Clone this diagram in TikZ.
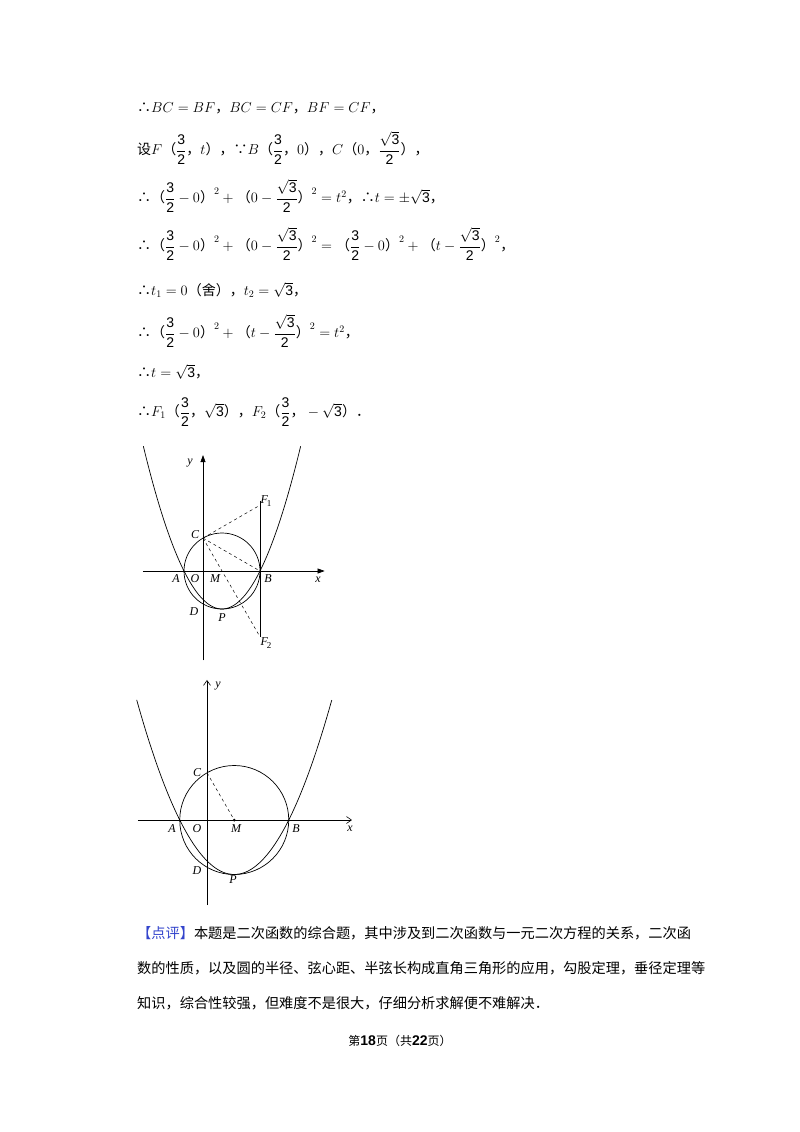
\documentclass[tikz,border=0pt]{standalone}
\usepackage{fontspec}
\usepackage{amsmath}
\setmainfont{Liberation Serif}
\newfontfamily\cjk{Noto Sans CJK SC}
\newfontfamily\arialf{Liberation Sans}
\usetikzlibrary{arrows.meta}
\newcommand{\fr}[2]{\dfrac{\text{\arialf #1}}{\text{\arialf #2}}}
\newcommand{\sq}{\sqrt{\text{\arialf 3}}}
\newcommand{\zh}[1]{\text{\cjk #1}}
\begin{document}
\begin{tikzpicture}[x=1pt,y=-1pt,
  txt/.style={anchor=west,inner sep=0pt,font=\fontsize{14}{16}\selectfont},
  lab/.style={inner sep=0pt,font=\fontsize{12}{14}\selectfont\itshape},
  dsh/.style={dashed,line width=0.5pt},
  crv/.style={line width=0.7pt}]
\useasboundingbox (0,0) rectangle (800,1132);
\fill[white] (0,0) rectangle (800,1132);
% text lines
\node[txt] (l1) at (137,108) {$\zh{∴}BC=BF\zh{，}BC=CF\zh{，}BF=CF\zh{，}$};
\node[txt] (l2) at (137,148) {$\zh{设}F\zh{（}\fr32\zh{，}t\zh{），∵}B\zh{（}\fr32\zh{，}0\zh{），}C\zh{（}0\zh{，}\fr{$\sq$}{2}\zh{），}$};
\node[txt] (l3) at (137,196) {$\zh{∴（}\fr32-0\zh{）}^2+\zh{（}0-\fr{$\sq$}{2}\zh{）}^2=t^2\zh{，∴}t=\pm\sq\zh{，}$};
\node[txt] (l4) at (137,244) {$\zh{∴（}\fr32-0\zh{）}^2+\zh{（}0-\fr{$\sq$}{2}\zh{）}^2=\zh{（}\fr32-0\zh{）}^2+\zh{（}t-\fr{$\sq$}{2}\zh{）}^2\zh{，}$};
\node[txt] (l5) at (137,290) {$\zh{∴}t_1=0\zh{（舍），}t_2=\sq\zh{，}$};
\node[txt] (l6) at (137,331) {$\zh{∴（}\fr32-0\zh{）}^2+\zh{（}t-\fr{$\sq$}{2}\zh{）}^2=t^2\zh{，}$};
\node[txt] (l7) at (137,372) {$\zh{∴}t=\sq\zh{，}$};
\node[txt] (l8) at (137,412) {$\zh{∴}F_1\zh{（}\fr32\zh{，}\sq\zh{），}F_2\zh{（}\fr32\zh{，}-\sq\zh{）．}$};
% figure 1
\begin{scope}[xshift=203pt,yshift=-571pt,x=38pt,y=38pt]
  \draw[line width=0.6pt,-{Triangle[length=7pt,width=5pt]}] (-1.58,0) -- (3.2,0);
  \draw[line width=0.6pt,-{Triangle[length=7pt,width=5pt]}] (0,-2.35) -- (0,3.05);
  \coordinate (C1) at (0,0.866);
  \coordinate (B1) at (1.5,0);
  \coordinate (F1) at (1.5,1.732);
  \coordinate (F2) at (1.5,-1.732);
  \draw[crv] (0.5,0) circle (1);
  \draw[crv,domain=-1.57:2.57,samples=80] plot (\x,{(\x+0.5)*(\x-1.5)});
  \draw[line width=0.6pt] (1.5,1.85) -- (F2);
  \draw[dsh] (C1) -- (F1);
  \draw[dsh] (C1) -- (B1);
  \draw[dsh] (C1) -- (F2);
\end{scope}
\node[lab] (y1) at (190,463) {y};
\node[lab] (f1) at (266,501) {F\kern-1pt\raisebox{-3pt}{\upshape\fontsize{9}{9}\selectfont 1}};
\node[lab] (c1) at (195,535) {C};
\node[lab] (a1) at (176,579) {A};
\node[lab] (o1) at (195,579) {O};
\node[lab] (m1) at (215,579) {M};
\node[lab] (b1) at (268,579) {B};
\node[lab] (x1) at (318,580) {x};
\node[lab] (d1) at (194,612) {D};
\node[lab] (p1) at (222,618) {P};
\node[lab] (f2) at (266,643) {F\kern-1pt\raisebox{-3pt}{\upshape\fontsize{9}{9}\selectfont 2}};
% figure 2
\begin{scope}[xshift=207pt,yshift=-820pt,x=54.5pt,y=54.5pt]
  \draw[line width=0.6pt,-{Straight Barb[length=5pt,width=7pt]}] (-1.27,0) -- (2.66,0);
  \draw[line width=0.6pt,-{Straight Barb[length=5pt,width=7pt]}] (0,-1.56) -- (0,2.57);
  \coordinate (C2) at (0,0.866);
  \coordinate (M2) at (0.5,0);
  \draw[crv] (0.5,0) circle (1);
  \draw[crv,domain=-1.29:2.29,samples=80] plot (\x,{(\x+0.5)*(\x-1.5)});
  \draw[dsh] (C2) -- (M2);
  \fill (M2) circle (1.5pt);
\end{scope}
\node[lab] (y2) at (218,686) {y};
\node[lab] (c2) at (197,773) {C};
\node[lab] (a2) at (172,829) {A};
\node[lab] (o2) at (197,829) {O};
\node[lab] (m2) at (236,829) {M};
\node[lab] (b2) at (296,829) {B};
\node[lab] (x2) at (350,829) {x};
\node[lab] (d2) at (197,871) {D};
\node[lab] (p2) at (233,880) {P};
% comment paragraph
\node[txt,font=\fontsize{14.2}{16}\selectfont\cjk] (p1l) at (137,933) {\textcolor[HTML]{3344CC}{【点评】}本题是二次函数的综合题，其中涉及到二次函数与一元二次方程的关系，二次函};
\node[txt,font=\fontsize{14.2}{16}\selectfont\cjk] (p2l) at (137,968) {数的性质，以及圆的半径、弦心距、半弦长构成直角三角形的应用，勾股定理，垂径定理等};
\node[txt,font=\fontsize{14.2}{16}\selectfont\cjk] (p3l) at (137,1003) {知识，综合性较强，但难度不是很大，仔细分析求解便不难解决．};
\node[inner sep=0pt,font=\fontsize{12}{14}\selectfont\cjk] (foot) at (400,1041) {第{\arialf\bfseries\fontsize{14}{14}\selectfont 18}页（共{\arialf\bfseries\fontsize{14}{14}\selectfont 22}页）};
\end{tikzpicture}
\end{document}
